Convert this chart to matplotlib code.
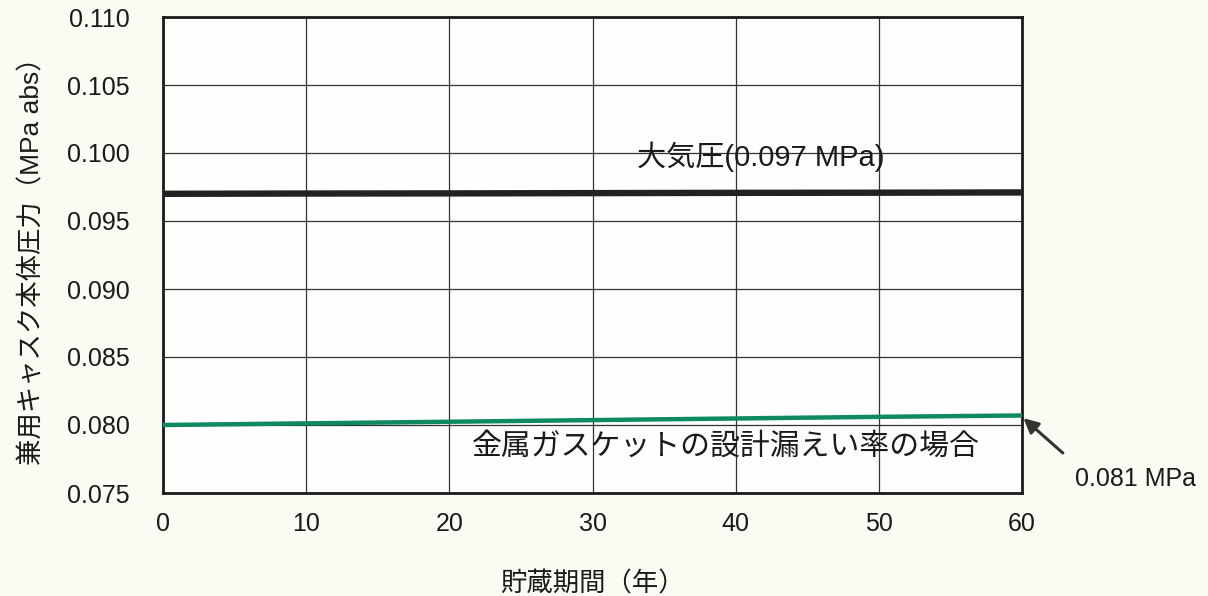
import matplotlib
matplotlib.use("Agg")
import matplotlib.pyplot as plt

plt.rcParams['font.family'] = ['Liberation Sans', 'Noto Sans CJK JP', 'DejaVu Sans']

years = [0, 10, 20, 30, 40, 50, 60]
atmos = [0.0970, 0.09702, 0.09703, 0.09705, 0.09707, 0.09708, 0.0971]
gasket = [0.0800, 0.08012, 0.08024, 0.08036, 0.08048, 0.0806, 0.0807]
xticks = [0, 10, 20, 30, 40, 50, 60]
yticks = [0.075, 0.080, 0.085, 0.090, 0.095, 0.100, 0.105, 0.110]
ytick_labels = ["0.075", "0.080", "0.085", "0.090", "0.095", "0.100", "0.105", "0.110"]

fig = plt.figure(figsize=(12.08, 5.96), dpi=100, facecolor='#fbfbf3')
ax = fig.add_axes([163/1208, 1-493/596, (1022-163)/1208, (493-17)/596])
ax.set_facecolor('#fefefc')

ax.plot(years, atmos, color='#222222', lw=4.6, solid_capstyle='butt', zorder=3)
ax.plot(years, gasket, color='#0f8a5f', lw=3.2, solid_capstyle='butt', zorder=3)

ax.set_xlim(0, 60)
ax.set_ylim(0.075, 0.110)
ax.set_xticks(xticks)
ax.set_yticks(yticks)
ax.set_yticklabels(ytick_labels)
ax.grid(True, color='#333333', lw=0.9)
ax.set_axisbelow(True)
for s in ax.spines.values():
    s.set_linewidth(2.0)
    s.set_color('#1a1a1a')
ax.tick_params(axis='both', length=0, labelsize=18, colors='#1a1a1a')
ax.tick_params(axis='y', pad=24)
ax.tick_params(axis='x', pad=14)

ax.set_ylabel('兼用キャスク本体圧力（MPa abs）', fontsize=19, labelpad=16, color='#1a1a1a')
ax.set_xlabel('貯蔵期間（年）', fontsize=19, labelpad=25, color='#1a1a1a')

ax.text(33.1, 0.0997, '大気圧(0.097 MPa)', fontsize=21, ha='left', va='center', color='#1a1a1a', zorder=4)
ax.text(21.6, 0.0784, '金属ガスケットの設計漏えい率の場合', fontsize=21.5, ha='left', va='center',
        color='#1a1a1a', zorder=4)
ax.annotate('0.081 MPa', xy=(60.1, 0.0805), xytext=(63.7, 0.0760),
            fontsize=18, ha='left', va='center', color='#1a1a1a', annotation_clip=False,
            arrowprops=dict(arrowstyle='-|>', color='#333333', lw=2.2, mutation_scale=22,
                            shrinkA=0, shrinkB=0, relpos=(-0.1, 1.6)))

fig.savefig('out.png', dpi=100, facecolor=fig.get_facecolor())
